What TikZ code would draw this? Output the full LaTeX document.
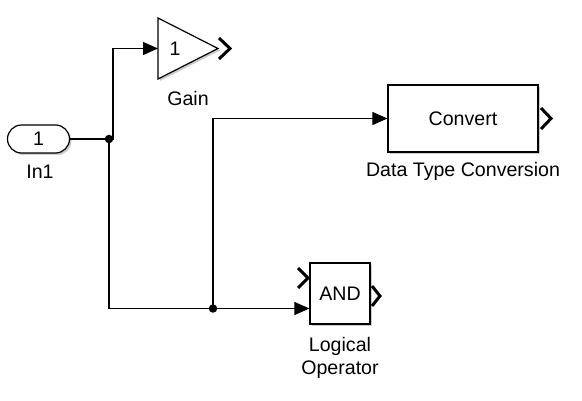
\documentclass[tikz,border=0pt]{standalone}
\usepackage{fontspec}
\setmainfont{Liberation Sans}
\usetikzlibrary{arrows.meta,shadows}
\begin{document}
\begin{tikzpicture}[x=1pt,y=-1pt, font=\fontsize{19.6}{23}\selectfont,
 blk/.style={draw, line width=1.2pt, fill=white, drop shadow={shadow xshift=2pt,shadow yshift=-2pt,fill=black!40,opacity=0.5}, inner sep=0pt},
 wire/.style={line width=1.1pt},
 sig/.style={wire, -{Triangle[length=15pt,width=13pt]}},
 port/.style={line width=3pt, line cap=butt, line join=miter},
 dot/.style={circle, fill=black, inner sep=0pt, minimum size=8.5pt},
 lbl/.style={inner sep=0pt, align=center}]
\useasboundingbox (0,0) rectangle (582,401);
% In1
\node[blk, rounded corners=14pt, minimum width=62pt, minimum height=28pt] (in1) at (38.5,139) {1};
\node[lbl] (in1lbl) at (40,172) {In1};
% Gain
\draw[blk] (158,18) -- (218,48.5) -- (158,79) -- cycle;
\coordinate (gainin) at (158,48.5);
\node[lbl] (gaintxt) at (175,49) {1};
\draw[port] (219,38) -- (230,48.5) -- (219,59);
\node[lbl] (gainlbl) at (188,98) {Gain};
% Convert
\node[blk, minimum width=150pt, minimum height=67pt] (conv) at (463,118.5) {Convert};
\draw[port] (541,108) -- (551,118.5) -- (541,129);
\node[lbl] (convlbl) at (463,171) {Data Type Conversion};
% AND
\node[blk, minimum width=60pt, minimum height=61pt] (and) at (340,293.5) {AND};
\draw[port] (298,268) -- (308,278) -- (298,288);
\draw[port] (372,286) -- (380,296) -- (372,306);
\node[lbl] (andlbl) at (340,358) {Logical\\Operator};
% junctions
\node[dot] (j1) at (109,139) {};
\node[dot] (j2) at (213,308.5) {};
% wires
\draw[wire] (in1.east) -- (j1.center);
\draw[sig] (j1.center) -- (113,139) |- (gainin);
\draw[wire] (j1.center) |- (j2.center);
\draw[sig] (j2.center) -- (and.west |- j2);
\draw[sig] (j2.center) |- (conv.west);
\end{tikzpicture}
\end{document}
